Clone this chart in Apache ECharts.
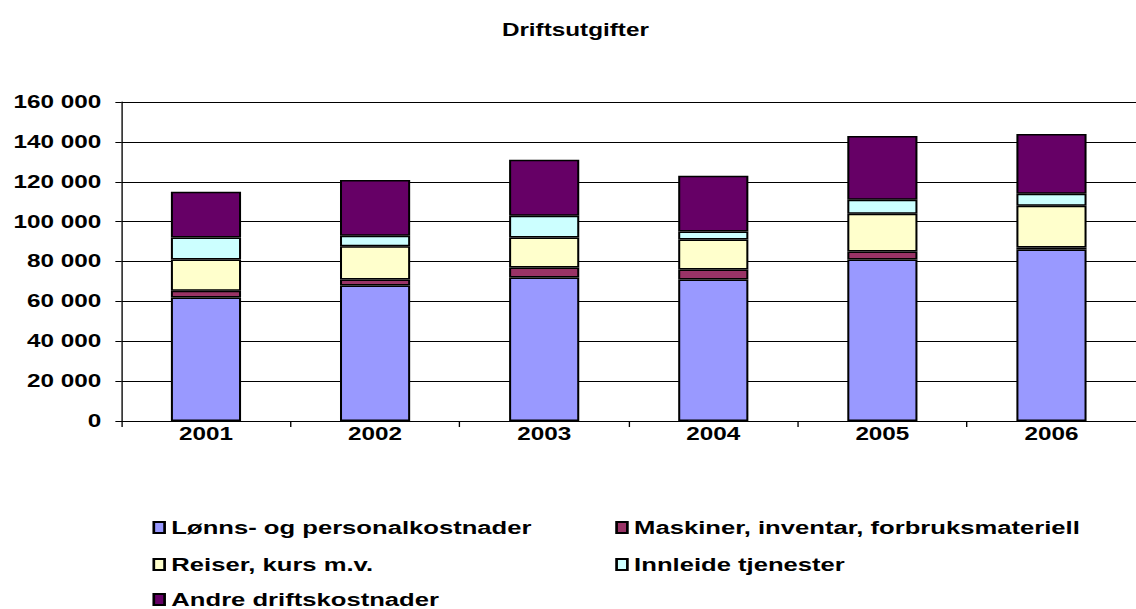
<!DOCTYPE html>
<html lang="no">
<head>
    <meta charset="UTF-8">
    <title>Driftsutgifter</title>
    <script src="https://cdn.jsdelivr.net/npm/echarts@6/dist/echarts.min.js"></script>
    <style>
        html, body { margin: 0; padding: 0; background: #fff; overflow: hidden; }
        /* originalen er strukket horisontalt, vi gjør det samme */
        #main { width: 842px; height: 609px; transform: scaleX(1.3492); transform-origin: 0 0; }
    </style>
</head>
<body>
    <div id="main"></div>
    <script>
        // år
        const years = ['2001', '2002', '2003', '2004', '2005', '2006']
        const seriesNames = [
            'Lønns- og personalkostnader',
            'Maskiner, inventar, forbruksmateriell',
            'Reiser, kurs m.v.',
            'Innleide tjenester',
            'Andre driftskostnader'
        ]
        const lonn = [62000, 68000, 72000, 71000, 81000, 86000]
        const maskiner = [3300, 3000, 5000, 5000, 4000, 1000]
        const reiser = [15700, 16700, 15000, 15000, 19000, 21000]
        const innleide = [11000, 5200, 11000, 4000, 7000, 6000]
        const andre = [23000, 28000, 28000, 28000, 32000, 30000]
        const colors = ['#9999FF', '#993366', '#FFFFCC', '#CCFFFF', '#660066']

        const values = [lonn, maskiner, reiser, innleide, andre]
        const font = '"Liberation Sans", Arial, sans-serif'

        // legend-plassering (i ustrukne koordinater), to kolonner
        const legendPos = [
            { left: 113, top: 518 },
            { left: 456, top: 518 },
            { left: 113, top: 555 },
            { left: 456, top: 555 },
            { left: 113, top: 590 }
        ]

        function init () {
            const myChart = echarts.init(document.getElementById('main'), null, { renderer: 'svg' })

            const series = seriesNames.map((name, i) => ({
                name,
                type: 'bar',
                stack: 'total',
                data: values[i],
                barWidth: 52,
                itemStyle: {
                    color: colors[i],
                    borderColor: '#000',
                    borderWidth: 1.5
                }
            }))

            const legend = seriesNames.map((name, i) => ({
                data: [name],
                left: legendPos[i].left,
                top: legendPos[i].top,
                padding: 0,
                icon: 'rect',
                itemWidth: 8,
                itemHeight: 11,
                itemGap: 4,
                selectedMode: false,
                textStyle: {
                    fontFamily: font,
                    fontWeight: 'bold',
                    fontSize: 19,
                    color: '#000'
                }
            }))

            const option = {
                animation: false,
                title: {
                    text: 'Driftsutgifter',
                    left: 367,
                    top: 16,
                    textStyle: {
                        fontFamily: font,
                        fontWeight: 'bold',
                        fontSize: 18,
                        color: '#000'
                    }
                },
                legend,
                grid: {
                    left: 90,
                    width: 761,
                    top: 102,
                    bottom: 188,
                    containLabel: false
                },
                xAxis: {
                    type: 'category',
                    data: years,
                    axisLine: { lineStyle: { color: '#000', width: 1 } },
                    axisTick: { show: true, length: 6, lineStyle: { color: '#000' } },
                    axisLabel: {
                        margin: 4,
                        fontFamily: font,
                        fontWeight: 'bold',
                        fontSize: 18,
                        color: '#000'
                    }
                },
                yAxis: {
                    type: 'value',
                    min: 0,
                    max: 160000,
                    interval: 20000,
                    axisLine: { show: true, lineStyle: { color: '#000', width: 1 } },
                    axisTick: { show: true, length: 4.5, lineStyle: { color: '#000' } },
                    splitLine: { show: true, lineStyle: { color: '#000', width: 1 } },
                    axisLabel: {
                        margin: 15,
                        fontFamily: font,
                        fontWeight: 'bold',
                        fontSize: 18,
                        color: '#000',
                        formatter: v => String(v).replace(/\B(?=(\d{3})+(?!\d))/g, ' ')
                    }
                },
                series
            }

            myChart.setOption(option)
        }

        init()
    </script>
</body>
</html>
